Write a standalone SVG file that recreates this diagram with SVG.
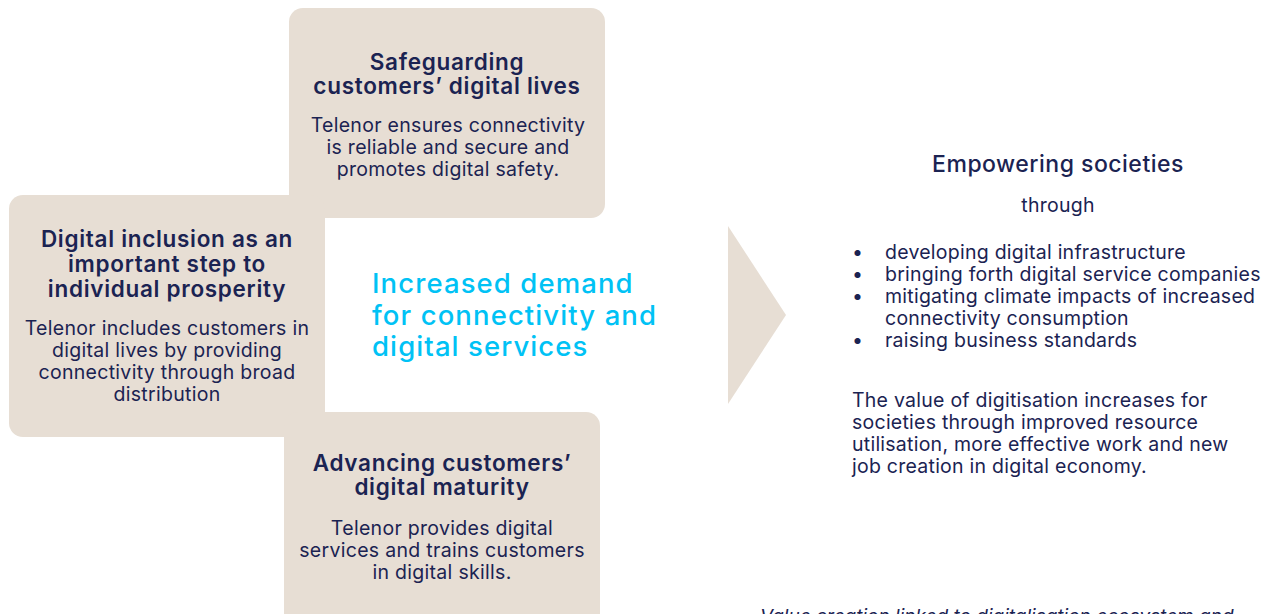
<svg xmlns="http://www.w3.org/2000/svg" width="1273" height="614" viewBox="0 0 1273 614">
  <style>
    .card { fill: #E7DED4; }
    .title { font-family: Inter, "Liberation Sans", sans-serif; font-weight: 600; font-size: 22.5px; letter-spacing: 0.7px; fill: #1B2352; text-anchor: middle; }
    .body { font-family: Inter, "Liberation Sans", sans-serif; font-weight: 400; font-size: 19.5px; letter-spacing: 0.3px; fill: #1B2352; text-anchor: middle; }
    .lead { font-family: Inter, "Liberation Sans", sans-serif; font-weight: 500; font-size: 27.5px; letter-spacing: 1.1px; fill: #00C2F5; }
    .txt { font-family: Inter, "Liberation Sans", sans-serif; font-weight: 400; font-size: 19.5px; letter-spacing: 0.25px; fill: #1B2352; }
    .head { font-family: Inter, "Liberation Sans", sans-serif; font-weight: 500; font-size: 23px; letter-spacing: 0.5px; fill: #1B2352; text-anchor: middle; }
  </style>
  <rect width="1273" height="614" fill="#FFFFFF"/>

  <!-- three overlapping cards forming the left cross -->
  <g id="card-safeguarding">
    <rect class="card" x="289" y="8" width="316" height="210" rx="14"/>
  </g>
  <g id="card-inclusion">
    <rect class="card" x="9" y="195" width="316" height="242" rx="14"/>
  </g>
  <g id="card-maturity">
    <rect class="card" x="284" y="412" width="316" height="230" rx="14"/>
  </g>

  <g id="text-safeguarding">
    <text class="title" x="447" y="70">Safeguarding</text>
    <text class="title" x="447" y="94">customers’ digital lives</text>
    <text class="body" x="448" y="132">Telenor ensures connectivity</text>
    <text class="body" x="448" y="154">is reliable and secure and</text>
    <text class="body" x="448" y="176">promotes digital safety.</text>
  </g>
  <g id="text-inclusion">
    <text class="title" x="167" y="247">Digital inclusion as an</text>
    <text class="title" x="167" y="272">important step to</text>
    <text class="title" x="167" y="297">individual prosperity</text>
    <text class="body" x="167" y="335">Telenor includes customers in</text>
    <text class="body" x="167" y="357">digital lives by providing</text>
    <text class="body" x="167" y="379">connectivity through broad</text>
    <text class="body" x="167" y="401">distribution</text>
  </g>
  <g id="text-maturity">
    <text class="title" x="442" y="471">Advancing customers’</text>
    <text class="title" x="442" y="495">digital maturity</text>
    <text class="body" x="442" y="535">Telenor provides digital</text>
    <text class="body" x="442" y="557">services and trains customers</text>
    <text class="body" x="442" y="579">in digital skills.</text>
  </g>

  <!-- central statement -->
  <g id="demand">
    <text class="lead" x="372" y="293">Increased demand</text>
    <text class="lead" x="372" y="325">for connectivity and</text>
    <text class="lead" x="372" y="356">digital services</text>
  </g>

  <!-- chevron pointing to the outcome -->
  <g id="connectors">
    <polygon points="728,226 786,315 728,404" fill="#E7DED4"/>
  </g>

  <!-- outcome -->
  <g id="outcome">
    <text class="head" x="1058" y="172">Empowering societies</text>
    <text class="txt" x="1058" y="212" text-anchor="middle">through</text>
    <text class="txt" x="852" y="259">•</text>
    <text class="txt" x="885" y="259">developing digital infrastructure</text>
    <text class="txt" x="852" y="281">•</text>
    <text class="txt" x="885" y="281">bringing forth digital service companies</text>
    <text class="txt" x="852" y="303">•</text>
    <text class="txt" x="885" y="303">mitigating climate impacts of increased</text>
    <text class="txt" x="885" y="325">connectivity consumption</text>
    <text class="txt" x="852" y="347">•</text>
    <text class="txt" x="885" y="347">raising business standards</text>
    <text class="txt" x="852" y="407">The value of digitisation increases for</text>
    <text class="txt" x="852" y="429">societies through improved resource</text>
    <text class="txt" x="852" y="451">utilisation, more effective work and new</text>
    <text class="txt" x="852" y="473">job creation in digital economy.</text>
  </g>

  <!-- caption running off the lower edge -->
  <text x="760" y="623" style="font-family: Inter, 'Liberation Sans', sans-serif; font-style: italic; font-size: 19px; fill: #1B2352">Value creation linked to digitalisation ecosystem and</text>
</svg>
